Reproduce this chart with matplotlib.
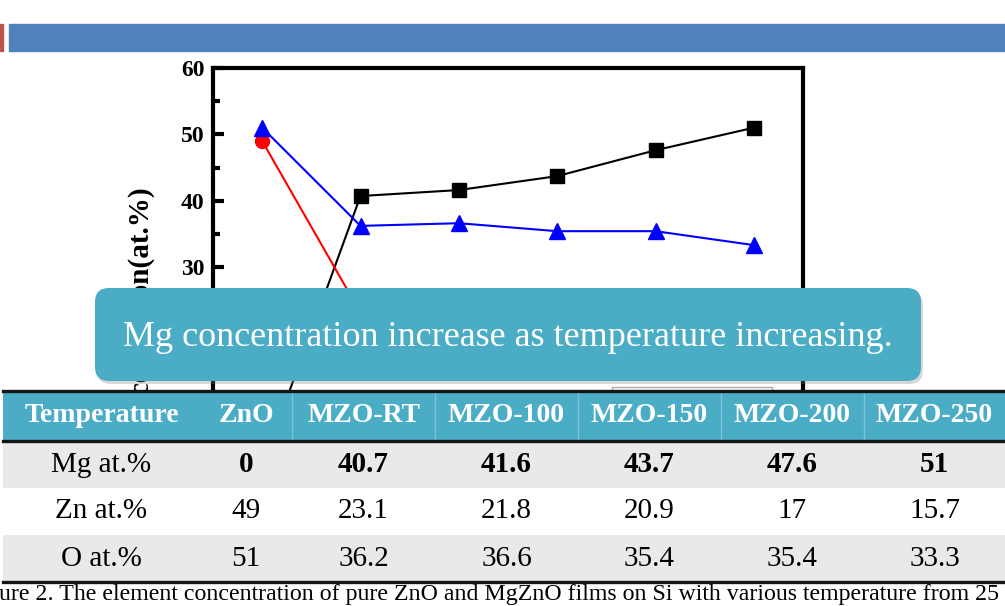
import matplotlib
matplotlib.use('Agg')
import matplotlib.pyplot as plt
from matplotlib.patches import FancyBboxPatch, Rectangle

samples = ['ZnO', 'MZO-RT', 'MZO-100', 'MZO-150', 'MZO-200', 'MZO-250']
mg = [0, 40.7, 41.6, 43.7, 47.6, 51]
zn = [49, 23.1, 21.8, 20.9, 17, 15.7]
ox = [51, 36.2, 36.6, 35.4, 35.4, 33.3]
row_labels = ['Mg at.%', 'Zn at.%', 'O at.%']
first_col = 'Temperature'
note = 'Mg concentration increase as temperature increasing.'
caption = ('Figure 2. The element concentration of pure ZnO and MgZnO films on Si '
           'with various temperature from 25 to 250 \u00b0C.')

plt.rcParams['font.family'] = ['Liberation Serif', 'DejaVu Serif']

W, H = 1005, 606
fig = plt.figure(figsize=(W / 100, H / 100), dpi=100)


def box(x0, y0, x1, y1):
    # pixel box (top-left origin) -> figure fraction rect
    return [x0 / W, 1 - y1 / H, (x1 - x0) / W, (y1 - y0) / H]


# --- the chart ---
ax = fig.add_axes(box(213, 68, 803, 466))
xs = range(len(samples))
ax.plot(xs, mg, color='black', marker='s', ms=9.5, lw=1.5, label='Mg')
ax.plot(xs, zn, color='red', marker='o', ms=10, lw=1.5, label='Zn')
ax.plot(xs, ox, color='blue', marker='^', ms=12, lw=1.5, label='O')
ax.set_xlim(-0.5, 5.5)
ax.set_ylim(0, 60)
ax.set_xticks(list(xs), samples)
ax.set_yticks(range(0, 61, 10))
ax.set_yticks(range(5, 60, 10), minor=True)
ax.tick_params(axis='y', which='major', direction='in', length=8, width=3,
               labelsize=17, pad=6)
ax.tick_params(axis='y', which='minor', direction='in', length=5, width=3)
ax.tick_params(axis='x', direction='in', length=8, width=3, labelsize=17)
for lbl in ax.get_yticklabels() + ax.get_xticklabels():
    lbl.set_fontweight('bold')
for sp in ax.spines.values():
    sp.set_linewidth(3)
ax.set_ylabel('Concentration(at.%)', fontsize=21, fontweight='bold', ha='right')
ax.yaxis.set_label_coords(-0.1, (466 - 185) / 398)
ax.legend(loc='upper left', mode='expand', fancybox=False, edgecolor='#9a9a9a',
          fontsize=14, borderaxespad=0,
          bbox_to_anchor=((612 - 213) / 590, 0, 160 / 590, (466 - 387) / 398))

# --- slide decorations: title bar and callout ---
ov = fig.add_axes([0, 0, 1, 1], zorder=5)
ov.set_xlim(0, W)
ov.set_ylim(H, 0)
ov.axis('off')
ov.add_patch(Rectangle((9, 24), W - 9, 27, color='#4F81BD'))
ov.add_patch(Rectangle((0, 24), 3, 27, color='#C0504D'))
ov.add_patch(FancyBboxPatch((97, 291), 826, 93, boxstyle='round,pad=0,rounding_size=14',
                            color='#7f7f7f', alpha=0.3, lw=0))
ov.add_patch(FancyBboxPatch((95, 288), 826, 93, boxstyle='round,pad=0,rounding_size=14',
                            color='#4BACC6', lw=0))
ov.text(508, 337, note, color='white', fontsize=26, ha='center', va='center')

# --- the table ---
tax = fig.add_axes(box(3, 391, 1005, 582), zorder=6)
tax.axis('off')
cells = [[row_labels[i]] + [f'{v:g}' for v in vals] for i, vals in enumerate([mg, zn, ox])]
widths = [197, 92, 143, 143, 143, 143, 141]
tbl = tax.table(cellText=cells, colLabels=[first_col] + samples, colWidths=widths,
                cellLoc='center', colLoc='center', bbox=[0, 0, 1, 1])
tbl.auto_set_font_size(False)
for (r, c), cell in tbl.get_celld().items():
    cell.set_height(50 if r == 0 else 47)
    cell.set_linewidth(0)
    txt = cell.get_text()
    if r == 0:
        cell.set_facecolor('#4BACC6')
        txt.set_color('white')
        txt.set_fontweight('bold')
        txt.set_fontsize(20)
    else:
        cell.set_facecolor('#E9E9E9' if r != 2 else 'white')
        txt.set_fontsize(21)
        if r == 1 and c > 0:
            txt.set_fontweight('bold')

head_bottom = 1 - 50 / 191
edge = 0
for w in widths[:-1]:
    edge += w
    if edge > widths[0]:
        tax.plot([edge / sum(widths)] * 2, [head_bottom, 1], color='#7cc3d6', lw=1,
                 zorder=9, transform=tax.transAxes)
for yy in (0, head_bottom, 1):
    tax.plot([0, 1], [yy, yy], color='#151515', lw=2.4, zorder=10,
             transform=tax.transAxes, clip_on=False)
tax.set_xlim(0, 1)
tax.set_ylim(0, 1)

fig.text(-33 / W, 1 - 600 / H, caption, fontsize=17.2, va='baseline', ha='left', zorder=10)

fig.savefig('out.png', dpi=100)
